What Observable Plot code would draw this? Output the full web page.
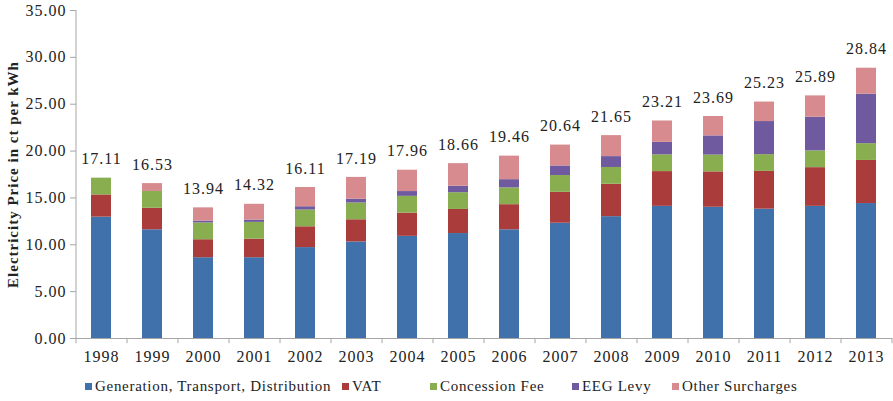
<!DOCTYPE html>
<html>
<head>
<meta charset="utf-8">
<script src="https://cdn.jsdelivr.net/npm/d3@7"></script>
<script src="https://cdn.jsdelivr.net/npm/@observablehq/plot@0.6"></script>
<style>
  html, body { margin: 0; padding: 0; background: #fff; }
  #wrap { width: 893px; height: 401px; position: relative; font-family: "Liberation Serif", "DejaVu Serif", serif; }
  #legend { position: relative; height: 20px; margin-top: 8px; font-size: 15px; letter-spacing: 0.7px; color: #222; }
  #legend .item { position: absolute; top: 0; display: flex; align-items: center; white-space: nowrap; }
  #legend .sw { width: 7px; height: 7px; margin-right: 3px; }
</style>
</head>
<body>
<div id="wrap"><div id="chart"></div><div id="legend"></div></div>
<script>
const years = ["1998","1999","2000","2001","2002","2003","2004","2005","2006","2007","2008","2009","2010","2011","2012","2013"];
const seriesNames = ["Generation, Transport, Distribution","VAT","Concession Fee","EEG Levy","Other Surcharges"];
const colors = ["#4071AA","#AA3D3C","#89AE4F","#6F5A9F","#D78B8E"];
const generation = [12.95,11.60,8.62,8.62,9.70,10.30,10.90,11.20,11.60,12.30,13.00,14.10,14.00,13.80,14.10,14.40];
const vat        = [2.37,2.30,1.92,1.98,2.22,2.37,2.48,2.57,2.68,3.30,3.46,3.71,3.78,4.03,4.13,4.60];
const concession = [1.79,1.79,1.79,1.79,1.79,1.79,1.79,1.79,1.79,1.79,1.79,1.79,1.79,1.79,1.79,1.79];
const eeg        = [0.00,0.00,0.20,0.25,0.35,0.41,0.51,0.69,0.88,1.02,1.16,1.33,2.05,3.53,3.59,5.28];
const other      = [0.00,0.84,1.41,1.68,2.05,2.32,2.28,2.41,2.51,2.23,2.24,2.28,2.07,2.08,2.28,2.77];
const totals     = [17.11,16.53,13.94,14.32,16.11,17.19,17.96,18.66,19.46,20.64,21.65,23.21,23.69,25.23,25.89,28.84];
const yTicks = [0,5,10,15,20,25,30,35];

const seriesValues = [generation, vat, concession, eeg, other];
const rows = [];
years.forEach((yr, i) => {
  seriesNames.forEach((s, k) => rows.push({year: yr, series: s, value: seriesValues[k][i]}));
});
const totalRows = years.map((yr, i) => ({year: yr, total: totals[i]}));

const axisColor = "#a6a6a6";
const font = "'Liberation Serif', 'DejaVu Serif', serif";

const chart = Plot.plot({
  width: 893,
  height: 370,
  marginLeft: 76,
  marginRight: 1,
  marginTop: 10,
  marginBottom: 32,
  style: {fontFamily: font, fontSize: "16px", color: "#222", background: "#fff", letterSpacing: "1px"},
  x: {domain: years, paddingInner: 0.6, paddingOuter: 0.3, label: null},
  y: {domain: [0, 35], label: null},
  color: {domain: seriesNames, range: colors},
  marks: [
    Plot.barY(rows, Plot.stackY({order: null}, {x: "year", y: "value", fill: "series"})),
    Plot.ruleY([0], {stroke: axisColor, strokeWidth: 1}),
    Plot.ruleX([years[0]], {y1: 0, y2: 35, dx: -25.5, stroke: axisColor}),
    Plot.ruleX(years, {y1: 0, y2: -0.55, dx: -25.5, stroke: axisColor}),
    Plot.ruleX([years[years.length - 1]], {y1: 0, y2: -0.55, dx: 25.5, stroke: axisColor}),
    Plot.axisY(yTicks, {tickFormat: d3.format(".2f"), tickSize: 6, tickPadding: 4, stroke: axisColor, fontSize: 16, fill: "#222", fontFamily: font}),
    Plot.axisX({tickSize: 0, tickPadding: 12, fontSize: 16, fill: "#222", fontFamily: font}),
    Plot.text(totalRows, {x: "year", y: "total", text: d => d3.format(".2f")(d.total), dy: -19, fontSize: 16, fill: "#222", fontFamily: font}),
    Plot.text(["Electricity Price in ct per kWh"], {frameAnchor: "left", textAnchor: "middle", dx: -63, rotate: -90, fontWeight: "bold", fontSize: 15, fill: "#222", fontFamily: font})
  ]
});
document.getElementById("chart").appendChild(chart);

const legendLeft = [85, 342, 430, 572, 672];
const legend = document.getElementById("legend");
seriesNames.forEach((s, k) => {
  const it = document.createElement("div");
  it.className = "item";
  it.style.left = legendLeft[k] + "px";
  const sw = document.createElement("span");
  sw.className = "sw";
  sw.style.background = colors[k];
  it.appendChild(sw);
  const t = document.createElement("span");
  t.textContent = s;
  it.appendChild(t);
  legend.appendChild(it);
});
</script>
</body>
</html>
